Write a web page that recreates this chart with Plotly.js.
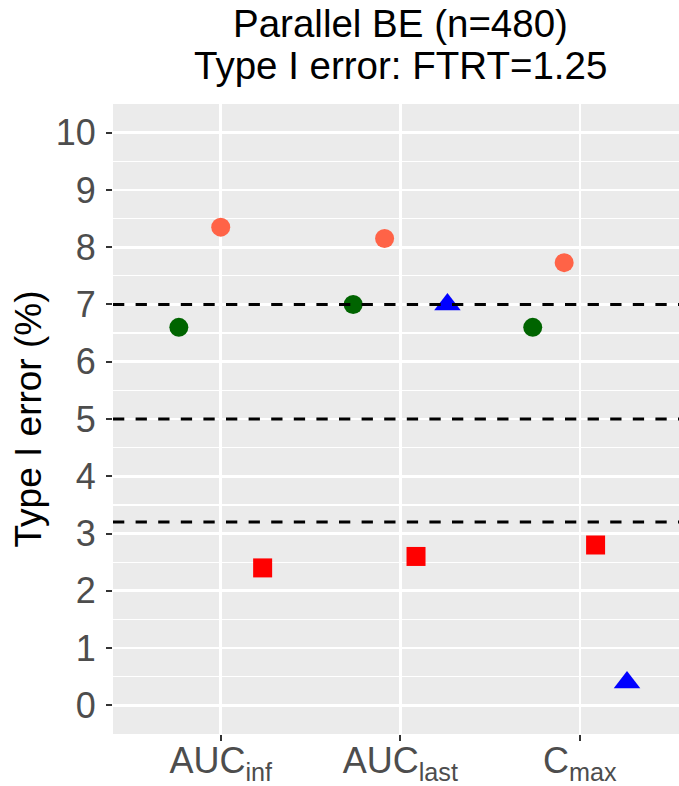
<!DOCTYPE html>
<html>
<head>
<meta charset="utf-8">
<script src="https://cdn.plot.ly/plotly-3.0.1.min.js"></script>
<style>html,body{margin:0;padding:0;background:#fff;}#chart{width:679px;height:786px;}</style>
</head>
<body>
<div id="chart"></div>
<script>
// ---- data ----
const categories = ['AUC<sub>inf</sub>', 'AUC<sub>last</sub>', 'C<sub>max</sub>'];
const groupNames = ['Group 1', 'Group 2', 'Group 3', 'Group 4'];
const groupColors = ['#006400', '#FF6347', '#FF0000', '#0000FF'];
const groupSymbols = ['circle', 'circle', 'square', 'triangle-up'];
const groupSizes = [19, 19, 19, 23];
const group1 = [6.6, 7.0, 6.6];
const group2 = [8.35, 8.15, 7.73];
const group3 = [2.4, 2.6, 2.8];
const group4 = [null, 7.0, 0.4];
const thresholds = [3.2, 5, 7];
const yTicks = [0, 1, 2, 3, 4, 5, 6, 7, 8, 9, 10];
const titleLines = ['Parallel BE (n=480)', 'Type I error: FTRT=1.25'];

const series = [group1, group2, group3, group4];
const dodgeWidth = 0.7;

// dodge positions like ggplot2 position_dodge (only groups present in each category)
const xPos = series.map(() => categories.map(() => null));
categories.forEach((c, ci) => {
  const present = series.map((s, si) => s[ci] == null ? -1 : si).filter(v => v >= 0);
  const n = present.length;
  present.forEach((si, k) => {
    xPos[si][ci] = (ci + 1) + (k - (n - 1) / 2) * dodgeWidth / n;
  });
});

const traces = series.map((s, si) => ({
  type: 'scatter',
  mode: 'markers',
  name: groupNames[si],
  x: xPos[si],
  y: s,
  marker: {color: groupColors[si], symbol: groupSymbols[si], size: groupSizes[si], line: {width: 0}},
  showlegend: false,
  cliponaxis: false
}));

const shapes = thresholds.map(v => ({
  type: 'line', xref: 'paper', x0: 0, x1: 1, yref: 'y', y0: v, y1: v,
  line: {color: '#000000', width: 3, dash: '11.3px,11.3px'},
  layer: 'above'
}));

const titleY = [1.128, 1.0605];
const annotations = titleLines.map((t, i) => ({
  text: t, xref: 'paper', yref: 'paper', x: 0.508, y: titleY[i],
  xanchor: 'center', yanchor: 'middle', showarrow: false,
  font: {size: 38.5, color: '#000000'}
}));

const layout = {
  width: 679, height: 786,
  margin: {l: 113, r: 0, t: 104, b: 52},
  paper_bgcolor: '#FFFFFF',
  plot_bgcolor: '#EBEBEB',
  font: {family: 'Liberation Sans, Arial, sans-serif', color: '#000000'},
  xaxis: {
    range: [0.4, 3.552],
    tickvals: [1, 2, 3],
    ticktext: categories,
    showgrid: true, gridcolor: '#FFFFFF', gridwidth: 2.7,
    zeroline: false, showline: false,
    ticks: 'outside', ticklen: 6, tickwidth: 2, tickcolor: '#333333',
    ticklabelstandoff: -11,
    tickfont: {size: 36, color: '#4D4D4D'}
  },
  yaxis: {
    range: [-0.5, 10.5],
    tickvals: yTicks,
    showgrid: true, gridcolor: '#FFFFFF', gridwidth: 2.7,
    minor: {dtick: 0.5, tick0: 0, showgrid: true, gridcolor: '#FFFFFF', gridwidth: 1.3},
    zeroline: false, showline: false,
    ticks: 'outside', ticklen: 6, tickwidth: 2, tickcolor: '#333333',
    ticklabelstandoff: 3,
    tickfont: {size: 36, color: '#4D4D4D'},
    title: {text: 'Type I error (%)', font: {size: 37, color: '#000000'}, standoff: 2}
  },
  shapes: shapes,
  annotations: annotations
};

Plotly.newPlot('chart', traces, layout, {displayModeBar: false, staticPlot: true});
</script>
</body>
</html>
